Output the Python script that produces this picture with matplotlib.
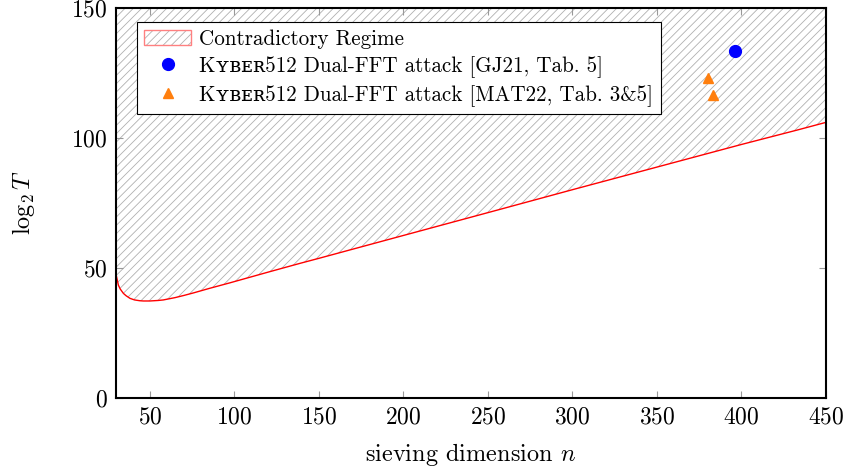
import matplotlib
matplotlib.use("Agg")
import matplotlib.pyplot as plt
from matplotlib.patches import Patch
from matplotlib.lines import Line2D
from matplotlib.legend_handler import HandlerTuple

plt.rcParams['font.family'] = ['cmr10', 'DejaVu Serif']
plt.rcParams['mathtext.fontset'] = 'cm'
plt.rcParams['axes.formatter.use_mathtext'] = True
plt.rcParams['hatch.linewidth'] = 0.6

# boundary curve
curve_n = [30, 31.4, 32.5, 34.4, 36, 38.3, 41, 44, 46.2, 50, 55, 58, 65, 70, 75.8, 85, 97.5, 120, 139,
           150, 200, 257.5, 300, 350, 400, 433.3, 450]
curve_T = [47.5, 43.3, 41.8, 40.1, 39.2, 38.2, 37.6, 37.3, 37.2, 37.2, 37.4, 37.6, 38.5, 39.3, 40.3, 42.0, 44.2, 48.3, 51.7,
           53.6, 62.4, 72.5, 80.0, 88.7, 97.4, 103.0, 105.9]

gj21_n = [396.3]
gj21_T = [133.5]
mat22_n = [380.3, 383.3]
mat22_T = [123.0, 116.3]

xticks = [50, 100, 150, 200, 250, 300, 350, 400, 450]
yticks = [0, 50, 100, 150]

fig = plt.figure(figsize=(8.45, 4.73), dpi=100)
ax = fig.add_axes([116/845, 1-397.7/473, 710/845, 390/473])

HATCH = '////'
ax.fill_between(curve_n, curve_T, 150, facecolor='none', edgecolor='#b0b0b0', hatch=HATCH, linewidth=0)
ax.plot(curve_n, curve_T, color='red', lw=1.0)
ax.plot(gj21_n, gj21_T, 'o', color='blue', ms=8.5, ls='none')
ax.plot(mat22_n, mat22_T, '^', color='#ff7f0e', ms=7.5, ls='none')

ax.set_xlim(30, 450)
ax.set_ylim(0, 150)
ax.set_xticks(xticks)
ax.set_yticks(yticks)
ax.tick_params(direction='in', length=5, width=0.8, color='#999999', top=True, right=True,
               labelsize=17, pad=6)
for s in ax.spines.values():
    s.set_linewidth(1.5)

ax.set_xlabel('sieving dimension $n$', fontsize=17.5, labelpad=9)
ax.set_ylabel(r'$\log_2 T$', fontsize=17.5, labelpad=25)

h1 = (Patch(facecolor='white', edgecolor='#b0b0b0', hatch=HATCH, linewidth=0),
      Patch(facecolor='none', edgecolor='#ff8080', linewidth=1.0))
h2 = Line2D([], [], marker='o', color='blue', ls='none', ms=8.5)
h3 = Line2D([], [], marker='^', color='#ff7f0e', ls='none', ms=7.5)
kyber = 'K\u028f\u0299\u1d07\u0280512'
leg = ax.legend([h1, h2, h3],
                ['Contradictory Regime',
                 kyber + ' Dual-FFT attack [GJ21, Tab. 5]',
                 kyber + ' Dual-FFT attack [MAT22, Tab. 3&5]'],
                handler_map={tuple: HandlerTuple(ndivide=1, pad=0)},
                loc='upper left', bbox_to_anchor=(21/710, 1-14/390), borderaxespad=0,
                fontsize=15.2, frameon=True, fancybox=False, edgecolor='black',
                framealpha=1, handlelength=2.2, handleheight=0.75, labelspacing=0.35,
                handletextpad=0.4, borderpad=0.35)
leg.get_frame().set_linewidth(0.8)

fig.savefig('out.png', dpi=100)
